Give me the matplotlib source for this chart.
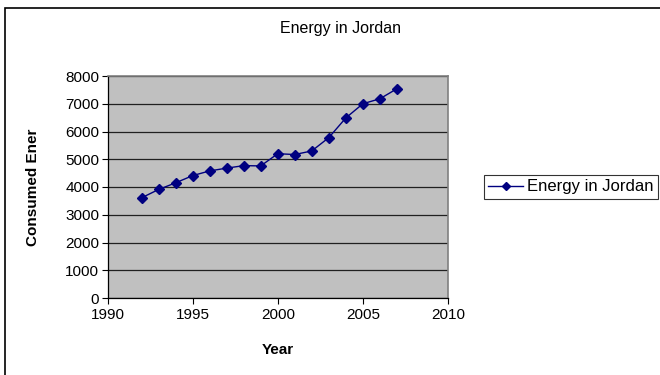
import matplotlib
matplotlib.use("Agg")
import matplotlib.pyplot as plt
from matplotlib.patches import Rectangle

years = [1992, 1993, 1994, 1995, 1996, 1997, 1998, 1999, 2000, 2001, 2002, 2003, 2004, 2005, 2006, 2007]
energy = [3610, 3910, 4150, 4410, 4580, 4680, 4770, 4760, 5200, 5170, 5300, 5780, 6490, 7000, 7180, 7540]
x_ticks = [1990, 1995, 2000, 2005, 2010]
y_ticks = [0, 1000, 2000, 3000, 4000, 5000, 6000, 7000, 8000]

plt.rcParams['font.family'] = ['Liberation Sans', 'DejaVu Sans']

fig = plt.figure(figsize=(6.6, 3.75), dpi=100)
fig.patch.set_facecolor('white')
# outer chart border
fig.add_artist(Rectangle((5/660, -0.1), 1.0, (375-8)/375 + 0.1, transform=fig.transFigure,
                         fill=False, edgecolor='black', linewidth=1.2))

ax = fig.add_axes([107.5/660, 1-298/375, (448-107.5)/660, (298-76)/375])
ax.set_facecolor('#C0C0C0')
ax.plot(years, energy, color='#000080', marker='D', markersize=5.5, linewidth=1.0,
        label='Energy in Jordan')
ax.set_xlim(1990, 2010)
ax.set_ylim(0, 8000)
ax.set_xticks(x_ticks)
ax.set_yticks(y_ticks)
ax.tick_params(axis='both', labelsize=11, length=4, width=0.8, direction='out', color='black')
ax.tick_params(axis='x', pad=3)
ax.tick_params(axis='y', pad=2)
ax.grid(axis='y', color='#202020', linewidth=0.9)
ax.set_axisbelow(True)
for s in ['top', 'right']:
    ax.spines[s].set_color('#808080')
    ax.spines[s].set_linewidth(1.2)
for s in ['left', 'bottom']:
    ax.spines[s].set_color('black')
    ax.spines[s].set_linewidth(0.9)

fig.text(278/660, 1-350/375, 'Year', fontsize=11, fontweight='bold', ha='center', va='center')
fig.text(33/660, 1-187/375, 'Consumed Ener', rotation=90, fontsize=11, fontweight='bold',
         ha='center', va='center')
fig.text(340/660, 1-28/375, 'Energy in Jordan', fontsize=11.5, ha='center', va='center')

leg = fig.legend(loc='center left', bbox_to_anchor=(484/660, 1-187/375), fontsize=12,
                 frameon=True, fancybox=False, edgecolor='black', handlelength=2.1,
                 borderpad=0.25, handletextpad=0.25, borderaxespad=0, markerscale=0.8)
leg.get_frame().set_linewidth(0.8)

fig.savefig('out.png', dpi=100)
